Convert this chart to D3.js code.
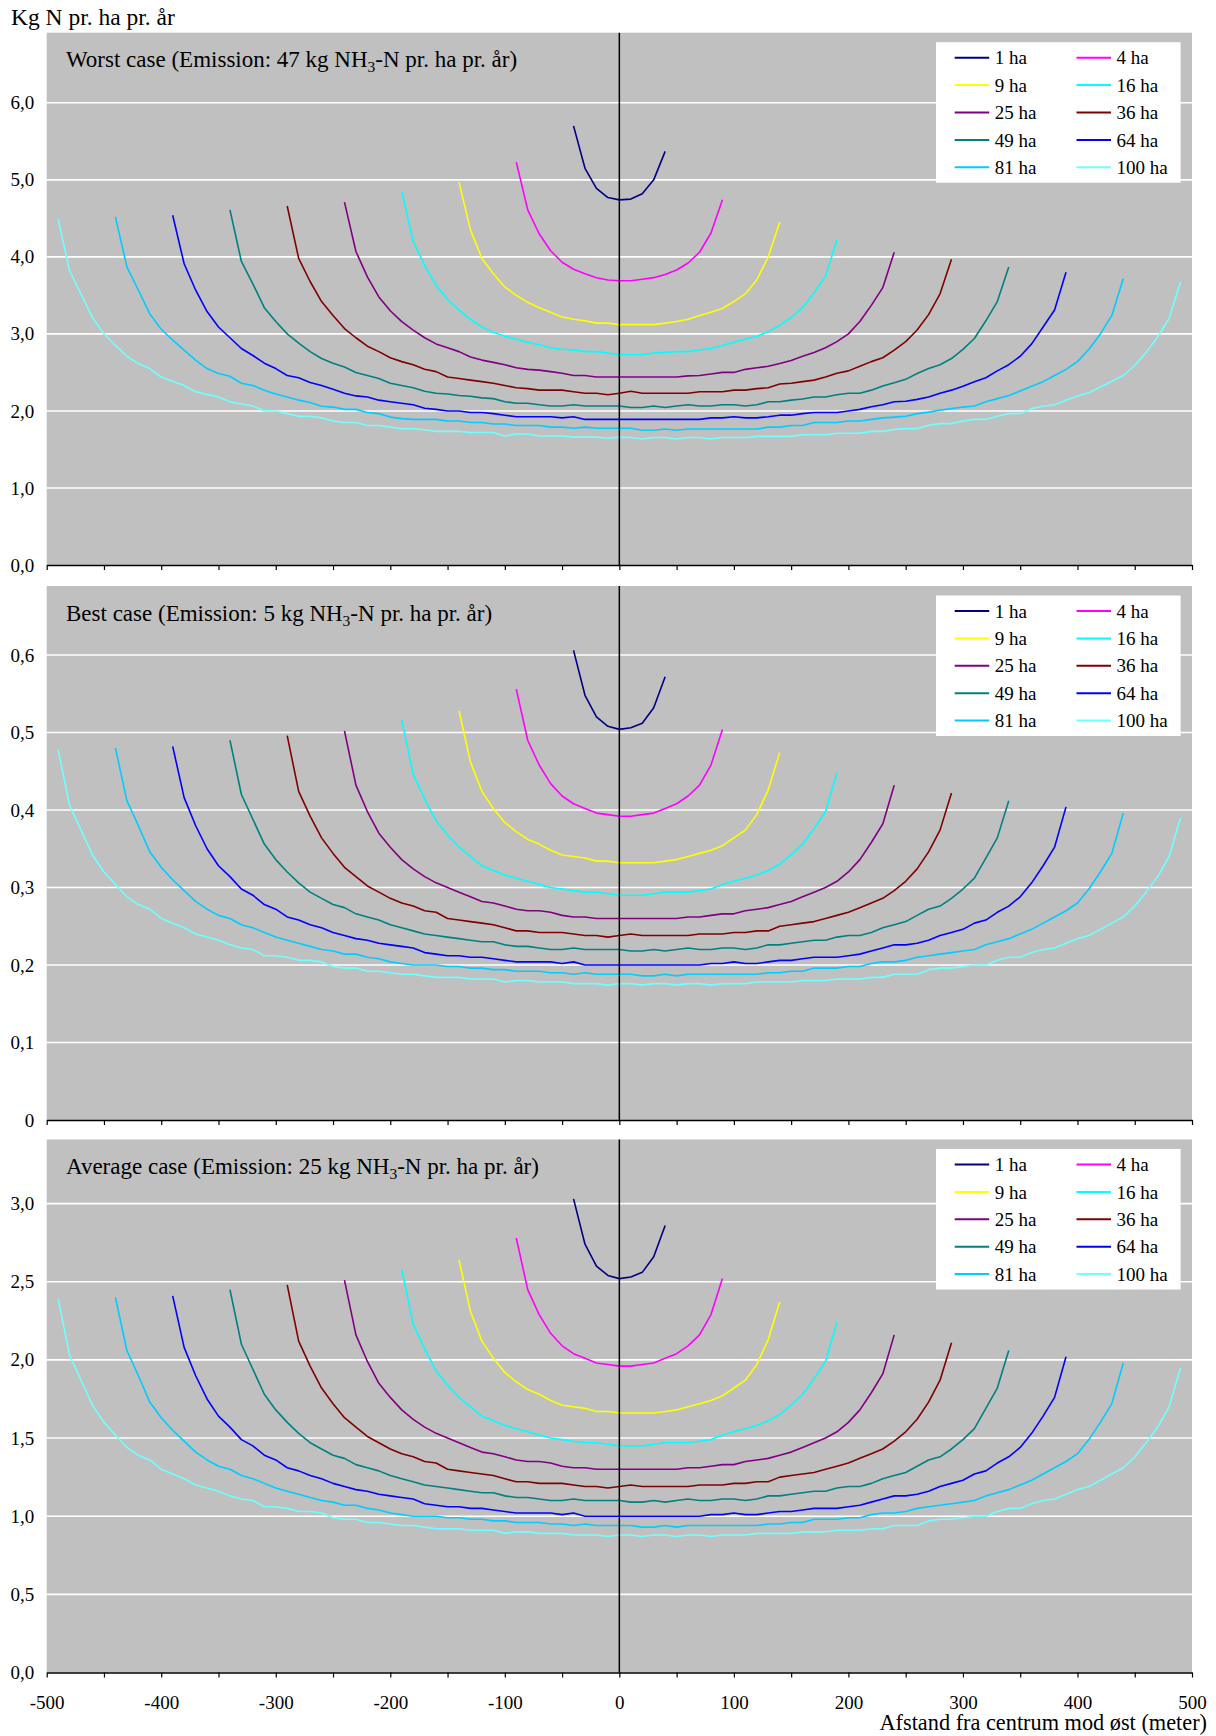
<!DOCTYPE html>
<html>
<head>
<meta charset="utf-8">
<script src="https://cdn.jsdelivr.net/npm/d3@7"></script>
<style>
  body { margin: 0; background: #fff; }
</style>
</head>
<body>
<div id="chart"></div>
<script>
// ---- data ----
var areaNames = ['1 ha', '4 ha', '9 ha', '16 ha', '25 ha', '36 ha', '49 ha', '64 ha', '81 ha', '100 ha'];
var areaColors = ['#000080', '#ff00ff', '#ffff00', '#00ffff', '#800080', '#800000', '#008080', '#0000ff', '#00ccff', '#70ffff'];
// each curve runs from -halfSpan to +halfSpan metres, one value per 10 m
var halfSpan = [40, 90, 140, 190, 240, 290, 340, 390, 440, 490];
var stepMeters = 10;

var worstCase = [
  [5.70, 5.15, 4.89, 4.77, 4.74, 4.75, 4.82, 5.00, 5.37],
  [5.23, 4.61, 4.30, 4.08, 3.93, 3.84, 3.78, 3.73, 3.70, 3.69, 3.69, 3.71, 3.73, 3.77, 3.83, 3.92, 4.06, 4.31, 4.74],
  [4.97, 4.35, 3.98, 3.78, 3.61, 3.50, 3.41, 3.34, 3.28, 3.22, 3.19, 3.17, 3.14, 3.14, 3.12, 3.12, 3.12, 3.12, 3.14, 3.16, 3.19, 3.24, 3.28, 3.33, 3.42, 3.52, 3.70, 4.00, 4.45],
  [4.85, 4.20, 3.89, 3.63, 3.45, 3.31, 3.19, 3.09, 3.02, 2.97, 2.93, 2.89, 2.86, 2.82, 2.80, 2.79, 2.77, 2.77, 2.75, 2.73, 2.73, 2.73, 2.75, 2.76, 2.77, 2.77, 2.79, 2.81, 2.85, 2.89, 2.93, 2.97, 3.03, 3.11, 3.21, 3.34, 3.53, 3.75, 4.22],
  [4.71, 4.07, 3.74, 3.48, 3.30, 3.16, 3.05, 2.95, 2.87, 2.82, 2.77, 2.70, 2.66, 2.63, 2.60, 2.56, 2.54, 2.53, 2.51, 2.49, 2.46, 2.46, 2.44, 2.44, 2.44, 2.44, 2.44, 2.44, 2.44, 2.44, 2.455, 2.46, 2.48, 2.50, 2.50, 2.54, 2.56, 2.58, 2.615, 2.655, 2.71, 2.76, 2.82, 2.90, 3.00, 3.16, 3.37, 3.60, 4.06],
  [4.66, 3.98, 3.68, 3.42, 3.24, 3.07, 2.95, 2.84, 2.77, 2.69, 2.64, 2.60, 2.54, 2.51, 2.44, 2.42, 2.40, 2.38, 2.36, 2.33, 2.30, 2.29, 2.27, 2.27, 2.27, 2.25, 2.23, 2.23, 2.21,
   2.23,
   2.255, 2.23, 2.23, 2.23, 2.23, 2.23, 2.25, 2.25, 2.25, 2.27, 2.27, 2.29, 2.30, 2.35, 2.36, 2.38, 2.40, 2.44, 2.49, 2.52, 2.58, 2.64, 2.69, 2.79, 2.90, 3.05, 3.25, 3.52, 3.97],
  [4.61, 3.94, 3.65, 3.34, 3.16, 3.00, 2.88, 2.77, 2.68, 2.62, 2.57, 2.50, 2.46, 2.42, 2.36, 2.33, 2.30, 2.255, 2.23, 2.22, 2.20, 2.19, 2.17, 2.16, 2.12, 2.10, 2.10, 2.08, 2.065, 2.065, 2.08, 2.065, 2.065, 2.065,
   2.065,
   2.045, 2.045, 2.065, 2.045, 2.065, 2.08, 2.065, 2.065, 2.08, 2.08, 2.065, 2.08, 2.12, 2.12, 2.14, 2.155, 2.18, 2.18, 2.21, 2.23, 2.23, 2.27, 2.325, 2.365, 2.41, 2.485, 2.55, 2.60, 2.68, 2.80, 2.94, 3.17, 3.42, 3.87],
  [4.54, 3.91, 3.57, 3.29, 3.09, 2.95, 2.81, 2.72, 2.62, 2.55, 2.46, 2.43, 2.37, 2.33, 2.28, 2.23, 2.195, 2.18, 2.14, 2.12, 2.10, 2.08, 2.035, 2.02, 2.00, 2.00, 1.98, 1.98, 1.965, 1.945, 1.925, 1.925, 1.925, 1.925, 1.91, 1.925, 1.89, 1.89, 1.89,
   1.89,
   1.89, 1.89, 1.89, 1.89, 1.89, 1.89, 1.89, 1.91, 1.91, 1.925, 1.91, 1.91, 1.925, 1.945, 1.945, 1.965, 1.98, 1.98, 1.98, 2.00, 2.02, 2.055, 2.08, 2.12, 2.125, 2.15, 2.18, 2.23, 2.27, 2.32, 2.38, 2.43, 2.52, 2.60, 2.71, 2.87, 3.09, 3.31, 3.80],
  [4.52, 3.87, 3.57, 3.26, 3.06, 2.92, 2.79, 2.66, 2.55, 2.485, 2.45, 2.36, 2.33, 2.27, 2.22, 2.18, 2.14, 2.11, 2.06, 2.05, 2.02, 2.02, 1.98, 1.965, 1.92, 1.90, 1.89, 1.89, 1.89, 1.87, 1.87, 1.85, 1.85, 1.83, 1.83, 1.81, 1.81, 1.81, 1.79, 1.79, 1.775, 1.79, 1.775, 1.775,
   1.775,
   1.775, 1.75, 1.75, 1.765, 1.75, 1.765, 1.765, 1.765, 1.765, 1.765, 1.765, 1.765, 1.79, 1.79, 1.81, 1.81, 1.85, 1.85, 1.85, 1.87, 1.87, 1.89, 1.91, 1.92, 1.93, 1.965, 1.985, 2.01, 2.03, 2.05, 2.065, 2.12, 2.16, 2.20, 2.26, 2.32, 2.38, 2.46, 2.54, 2.64, 2.80, 3.00, 3.24, 3.72],
  [4.49, 3.82, 3.515, 3.21, 3.00, 2.85, 2.71, 2.615, 2.55, 2.44, 2.385, 2.33, 2.25, 2.215, 2.18, 2.12, 2.09, 2.065, 2.00, 2.00, 1.965, 1.93, 1.93, 1.91, 1.87, 1.85, 1.85, 1.81, 1.81, 1.79, 1.77, 1.77, 1.755, 1.735, 1.735, 1.735, 1.72, 1.72, 1.72, 1.675, 1.70, 1.70, 1.675, 1.675, 1.675, 1.66, 1.66, 1.66, 1.645,
   1.66,
   1.655, 1.635, 1.655, 1.655, 1.635, 1.655, 1.655, 1.635, 1.655, 1.655, 1.655, 1.67, 1.67, 1.67, 1.67, 1.69, 1.69, 1.69, 1.71, 1.71, 1.71, 1.735, 1.735, 1.76, 1.77, 1.77, 1.815, 1.835, 1.835, 1.87, 1.89, 1.89, 1.93, 1.965, 1.965, 2.03, 2.06, 2.08, 2.14, 2.195, 2.235, 2.31, 2.385, 2.46, 2.59, 2.76, 2.96, 3.20, 3.675]
];

var bestCase = [
  [0.606, 0.548, 0.520, 0.508, 0.504, 0.506, 0.512, 0.532, 0.572],
  [0.556, 0.490, 0.458, 0.434, 0.418, 0.408, 0.402, 0.396, 0.394, 0.392, 0.392, 0.394, 0.396, 0.402, 0.408, 0.418, 0.432, 0.458, 0.504],
  [0.528, 0.462, 0.424, 0.402, 0.384, 0.372, 0.362, 0.356, 0.348, 0.342, 0.340, 0.338, 0.334, 0.334, 0.332, 0.332, 0.332, 0.332, 0.334, 0.336, 0.340, 0.344, 0.348, 0.354, 0.364, 0.374, 0.394, 0.426, 0.474],
  [0.516, 0.446, 0.414, 0.386, 0.368, 0.352, 0.340, 0.328, 0.322, 0.316, 0.312, 0.308, 0.304, 0.300, 0.298, 0.296, 0.294, 0.294, 0.292, 0.290, 0.290, 0.290, 0.292, 0.294, 0.294, 0.294, 0.296, 0.298, 0.304, 0.308, 0.312, 0.316, 0.322, 0.330, 0.342, 0.356, 0.376, 0.398, 0.448],
  [0.502, 0.432, 0.398, 0.370, 0.352, 0.336, 0.324, 0.314, 0.306, 0.300, 0.294, 0.288, 0.282, 0.280, 0.276, 0.272, 0.270, 0.270, 0.268, 0.264, 0.262, 0.262, 0.260, 0.260,
   0.260,
   0.260, 0.260, 0.260, 0.260, 0.260, 0.262, 0.262, 0.264, 0.266, 0.266, 0.270, 0.272, 0.274, 0.278, 0.282, 0.288, 0.294, 0.300, 0.308, 0.320, 0.336, 0.358, 0.382, 0.432],
  [0.496, 0.424, 0.392, 0.364, 0.344, 0.326, 0.314, 0.302, 0.294, 0.286, 0.280, 0.276, 0.270, 0.268, 0.260, 0.258, 0.256, 0.254, 0.252, 0.248, 0.244, 0.244, 0.242, 0.242, 0.242, 0.240, 0.238, 0.238, 0.236,
   0.238,
   0.240, 0.238, 0.238, 0.238, 0.238, 0.238, 0.240, 0.240, 0.240, 0.242, 0.242, 0.244, 0.244, 0.250, 0.252, 0.254, 0.256, 0.260, 0.264, 0.268, 0.274, 0.280, 0.286, 0.296, 0.308, 0.324, 0.346, 0.374, 0.422],
  [0.490, 0.420, 0.388, 0.356, 0.336, 0.320, 0.306, 0.294, 0.286, 0.278, 0.274, 0.266, 0.262, 0.258, 0.252, 0.248, 0.244, 0.240, 0.238, 0.236, 0.234, 0.232, 0.230, 0.230, 0.226, 0.224, 0.224, 0.222, 0.220, 0.220, 0.222, 0.220, 0.220, 0.220,
   0.220,
   0.218, 0.218, 0.220, 0.218, 0.220, 0.222, 0.220, 0.220, 0.222, 0.222, 0.220, 0.222, 0.226, 0.226, 0.228, 0.230, 0.232, 0.232, 0.236, 0.238, 0.238, 0.242, 0.248, 0.252, 0.256, 0.264, 0.272, 0.276, 0.286, 0.298, 0.312, 0.338, 0.364, 0.412],
  [0.482, 0.416, 0.380, 0.350, 0.328, 0.314, 0.298, 0.290, 0.278, 0.272, 0.262, 0.258, 0.252, 0.248, 0.242, 0.238, 0.234, 0.232, 0.228, 0.226, 0.224, 0.222, 0.216, 0.214, 0.212, 0.212, 0.210, 0.210, 0.208, 0.206, 0.204, 0.204, 0.204, 0.204, 0.202, 0.204, 0.200, 0.200, 0.200,
   0.200,
   0.200, 0.200, 0.200, 0.200, 0.200, 0.200, 0.200, 0.202, 0.202, 0.204, 0.202, 0.202, 0.204, 0.206, 0.206, 0.208, 0.210, 0.210, 0.210, 0.212, 0.214, 0.218, 0.222, 0.226, 0.226, 0.228, 0.232, 0.238, 0.242, 0.246, 0.254, 0.258, 0.268, 0.276, 0.288, 0.306, 0.328, 0.352, 0.404],
  [0.480, 0.412, 0.380, 0.346, 0.326, 0.310, 0.296, 0.282, 0.272, 0.264, 0.260, 0.252, 0.248, 0.242, 0.236, 0.232, 0.228, 0.224, 0.220, 0.218, 0.214, 0.214, 0.210, 0.208, 0.204, 0.202, 0.200, 0.200, 0.200, 0.198, 0.198, 0.196, 0.196, 0.194, 0.194, 0.192, 0.192, 0.192, 0.190, 0.190, 0.188, 0.190, 0.188, 0.188,
   0.188,
   0.188, 0.186, 0.186, 0.188, 0.186, 0.188, 0.188, 0.188, 0.188, 0.188, 0.188, 0.188, 0.190, 0.190, 0.192, 0.192, 0.196, 0.196, 0.196, 0.198, 0.198, 0.202, 0.204, 0.204, 0.206, 0.210, 0.212, 0.214, 0.216, 0.218, 0.220, 0.226, 0.230, 0.234, 0.240, 0.246, 0.254, 0.262, 0.270, 0.280, 0.298, 0.320, 0.344, 0.396],
  [0.478, 0.406, 0.374, 0.342, 0.320, 0.304, 0.288, 0.278, 0.272, 0.260, 0.254, 0.248, 0.240, 0.236, 0.232, 0.226, 0.222, 0.220, 0.212, 0.212, 0.210, 0.206, 0.206, 0.204, 0.198, 0.196, 0.196, 0.192, 0.192, 0.190, 0.188, 0.188, 0.186, 0.184, 0.184, 0.184, 0.182, 0.182, 0.182, 0.178, 0.180, 0.180, 0.178, 0.178, 0.178, 0.176, 0.176, 0.176, 0.174,
   0.176,
   0.176, 0.174, 0.176, 0.176, 0.174, 0.176, 0.176, 0.174, 0.176, 0.176, 0.176, 0.178, 0.178, 0.178, 0.178, 0.180, 0.180, 0.180, 0.182, 0.182, 0.182, 0.184, 0.184, 0.188, 0.188, 0.188, 0.194, 0.196, 0.196, 0.198, 0.200, 0.200, 0.206, 0.210, 0.210, 0.216, 0.220, 0.222, 0.228, 0.234, 0.238, 0.246, 0.254, 0.262, 0.276, 0.294, 0.314, 0.340, 0.390]
];

var averageCase = [
  [3.03, 2.74, 2.60, 2.54, 2.52, 2.53, 2.56, 2.66, 2.86],
  [2.78, 2.45, 2.29, 2.17, 2.09, 2.04, 2.01, 1.98, 1.97, 1.96, 1.96, 1.97, 1.98, 2.01, 2.04, 2.09, 2.16, 2.29, 2.52],
  [2.64, 2.31, 2.12, 2.01, 1.92, 1.86, 1.81, 1.78, 1.74, 1.71, 1.70, 1.69, 1.67, 1.67, 1.66, 1.66, 1.66, 1.66, 1.67, 1.68, 1.70, 1.72, 1.74, 1.77, 1.82, 1.87, 1.97, 2.13, 2.37],
  [2.58, 2.23, 2.07, 1.93, 1.84, 1.76, 1.70, 1.64, 1.61, 1.58, 1.56, 1.54, 1.52, 1.50, 1.49, 1.48, 1.47, 1.47, 1.46, 1.45, 1.45, 1.45, 1.46, 1.47, 1.47, 1.47, 1.48, 1.49, 1.52, 1.54, 1.56, 1.58, 1.61, 1.65, 1.71, 1.78, 1.88, 1.99, 2.24],
  [2.51, 2.16, 1.99, 1.85, 1.76, 1.68, 1.62, 1.57, 1.53, 1.50, 1.47, 1.44, 1.41, 1.40, 1.38, 1.36, 1.35, 1.35, 1.34, 1.32, 1.31, 1.31, 1.30, 1.30,
   1.30,
   1.30, 1.30, 1.30, 1.30, 1.30, 1.31, 1.31, 1.32, 1.33, 1.33, 1.35, 1.36, 1.37, 1.39, 1.41, 1.44, 1.47, 1.50, 1.54, 1.60, 1.68, 1.79, 1.91, 2.16],
  [2.48, 2.12, 1.96, 1.82, 1.72, 1.63, 1.57, 1.51, 1.47, 1.43, 1.40, 1.38, 1.35, 1.34, 1.30, 1.29, 1.28, 1.27, 1.26, 1.24, 1.22, 1.22, 1.21, 1.21, 1.21, 1.20, 1.19, 1.19, 1.18,
   1.19,
   1.20, 1.19, 1.19, 1.19, 1.19, 1.19, 1.20, 1.20, 1.20, 1.21, 1.21, 1.22, 1.22, 1.25, 1.26, 1.27, 1.28, 1.30, 1.32, 1.34, 1.37, 1.40, 1.43, 1.48, 1.54, 1.62, 1.73, 1.87, 2.11],
  [2.45, 2.10, 1.94, 1.78, 1.68, 1.60, 1.53, 1.47, 1.43, 1.39, 1.37, 1.33, 1.31, 1.29, 1.26, 1.24, 1.22, 1.20, 1.19, 1.18, 1.17, 1.16, 1.15, 1.15, 1.13, 1.12, 1.12, 1.11, 1.10, 1.10, 1.11, 1.10, 1.10, 1.10,
   1.10,
   1.09, 1.09, 1.10, 1.09, 1.10, 1.11, 1.10, 1.10, 1.11, 1.11, 1.10, 1.11, 1.13, 1.13, 1.14, 1.15, 1.16, 1.16, 1.18, 1.19, 1.19, 1.21, 1.24, 1.26, 1.28, 1.32, 1.36, 1.38, 1.43, 1.49, 1.56, 1.69, 1.82, 2.06],
  [2.41, 2.08, 1.90, 1.75, 1.64, 1.57, 1.49, 1.45, 1.39, 1.36, 1.31, 1.29, 1.26, 1.24, 1.21, 1.19, 1.17, 1.16, 1.14, 1.13, 1.12, 1.11, 1.08, 1.07, 1.06, 1.06, 1.05, 1.05, 1.04, 1.03, 1.02, 1.02, 1.02, 1.02, 1.01, 1.02, 1.00, 1.00, 1.00,
   1.00,
   1.00, 1.00, 1.00, 1.00, 1.00, 1.00, 1.00, 1.01, 1.01, 1.02, 1.01, 1.01, 1.02, 1.03, 1.03, 1.04, 1.05, 1.05, 1.05, 1.06, 1.07, 1.09, 1.11, 1.13, 1.13, 1.14, 1.16, 1.19, 1.21, 1.23, 1.27, 1.29, 1.34, 1.38, 1.44, 1.53, 1.64, 1.76, 2.02],
  [2.40, 2.06, 1.90, 1.73, 1.63, 1.55, 1.48, 1.41, 1.36, 1.32, 1.30, 1.26, 1.24, 1.21, 1.18, 1.16, 1.14, 1.12, 1.10, 1.09, 1.07, 1.07, 1.05, 1.04, 1.02, 1.01, 1.00, 1.00, 1.00, 0.99, 0.99, 0.98, 0.98, 0.97, 0.97, 0.96, 0.96, 0.96, 0.95, 0.95, 0.94, 0.95, 0.94, 0.94,
   0.94,
   0.94, 0.93, 0.93, 0.94, 0.93, 0.94, 0.94, 0.94, 0.94, 0.94, 0.94, 0.94, 0.95, 0.95, 0.96, 0.96, 0.98, 0.98, 0.98, 0.99, 0.99, 1.01, 1.02, 1.02, 1.03, 1.05, 1.06, 1.07, 1.08, 1.09, 1.10, 1.13, 1.15, 1.17, 1.20, 1.23, 1.27, 1.31, 1.35, 1.40, 1.49, 1.60, 1.72, 1.98],
  [2.39, 2.03, 1.87, 1.71, 1.60, 1.52, 1.44, 1.39, 1.36, 1.30, 1.27, 1.24, 1.20, 1.18, 1.16, 1.13, 1.11, 1.10, 1.06, 1.06, 1.05, 1.03, 1.03, 1.02, 0.99, 0.98, 0.98, 0.96, 0.96, 0.95, 0.94, 0.94, 0.93, 0.92, 0.92, 0.92, 0.91, 0.91, 0.91, 0.89, 0.90, 0.90, 0.89, 0.89, 0.89, 0.88, 0.88, 0.88, 0.87,
   0.88,
   0.88, 0.87, 0.88, 0.88, 0.87, 0.88, 0.88, 0.87, 0.88, 0.88, 0.88, 0.89, 0.89, 0.89, 0.89, 0.90, 0.90, 0.90, 0.91, 0.91, 0.91, 0.92, 0.92, 0.94, 0.94, 0.94, 0.97, 0.98, 0.98, 0.99, 1.00, 1.00, 1.03, 1.05, 1.05, 1.08, 1.10, 1.11, 1.14, 1.17, 1.19, 1.23, 1.27, 1.31, 1.38, 1.47, 1.57, 1.70, 1.95]
];

// y ticks and their printed labels, per panel
var worstTicks = [0, 1, 2, 3, 4, 5, 6];
var worstTickLabels = ['0,0', '1,0', '2,0', '3,0', '4,0', '5,0', '6,0'];
var bestTicks = [0, 0.1, 0.2, 0.3, 0.4, 0.5, 0.6];
var bestTickLabels = ['0', '0,1', '0,2', '0,3', '0,4', '0,5', '0,6'];
var averageTicks = [0, 0.5, 1, 1.5, 2, 2.5, 3];
var averageTickLabels = ['0,0', '0,5', '1,0', '1,5', '2,0', '2,5', '3,0'];

// x ticks every 50 m, labels every 100 m
var xTicks = [-500, -450, -400, -350, -300, -250, -200, -150, -100, -50, 0, 50, 100, 150, 200, 250, 300, 350, 400, 450, 500];
var xTickLabels = [-500, -400, -300, -200, -100, 0, 100, 200, 300, 400, 500];

// titles are split around the subscript "3" of NH3
var titleStarts = ['Worst case (Emission: 47 kg NH', 'Best case (Emission: 5 kg NH', 'Average case (Emission: 25 kg NH'];
var titleEnd = '-N pr. ha pr. år)';
var yAxisTitle = 'Kg N pr. ha pr. år';
var xAxisTitle = 'Afstand fra centrum mod øst (meter)';

// ---- drawing ----
var W = 1216, H = 1736;
var fontFamily = '"Liberation Serif", "Times New Roman", serif';

var svg = d3.select('#chart').append('svg')
    .attr('width', W)
    .attr('height', H)
    .style('font-family', fontFamily);

var plotLeft = 46.7, plotRight = 1192;
var x = d3.scaleLinear().domain([-500, 500]).range([plotLeft, plotRight]);

var panels = [
    { top: 32.7, bottom: 565, yMax: 6.91, values: worstCase, ticks: worstTicks, labels: worstTickLabels, title: titleStarts[0], showX: false },
    { top: 586, bottom: 1120, yMax: 0.689, values: bestCase, ticks: bestTicks, labels: bestTickLabels, title: titleStarts[1], showX: false },
    { top: 1139.5, bottom: 1672.5, yMax: 3.41, values: averageCase, ticks: averageTicks, labels: averageTickLabels, title: titleStarts[2], showX: true }
];

panels.forEach(function (p) {

    var y = d3.scaleLinear().domain([0, p.yMax]).range([p.bottom, p.top]);
    var g = svg.append('g');

    // plot area
    g.append('rect')
        .attr('x', plotLeft)
        .attr('y', p.top)
        .attr('width', plotRight - plotLeft)
        .attr('height', p.bottom - p.top)
        .attr('fill', '#c0c0c0');

    // horizontal gridlines
    g.selectAll('line.grid')
        .data(p.ticks.filter(function (d) { return d > 0; }))
        .join('line')
        .attr('class', 'grid')
        .attr('x1', plotLeft)
        .attr('x2', plotRight)
        .attr('y1', function (d) { return y(d); })
        .attr('y2', function (d) { return y(d); })
        .attr('stroke', '#ffffff')
        .attr('stroke-width', 1.6);

    // y labels
    var yAxis = d3.axisLeft(y)
        .tickValues(p.ticks)
        .tickSize(0)
        .tickPadding(12.5)
        .tickFormat(function (d, i) { return p.labels[i]; });

    var ya = g.append('g')
        .attr('transform', 'translate(' + plotLeft + ',0)')
        .call(yAxis);
    ya.select('.domain').remove();
    ya.selectAll('text')
        .style('font-family', fontFamily)
        .style('font-size', '19px')
        .attr('fill', '#000');

    // curves
    var line = d3.line()
        .x(function (d) { return x(d[0]); })
        .y(function (d) { return y(d[1]); });

    g.selectAll('path.curve')
        .data(p.values)
        .join('path')
        .attr('class', 'curve')
        .attr('fill', 'none')
        .attr('stroke', function (d, i) { return areaColors[i]; })
        .attr('stroke-width', 1.6)
        .attr('stroke-linejoin', 'round')
        .attr('d', function (vals, i) {
            return line(vals.map(function (v, j) { return [j * stepMeters - halfSpan[i], v]; }));
        });

    // vertical axis at x = 0
    g.append('line')
        .attr('x1', x(0))
        .attr('x2', x(0))
        .attr('y1', p.top)
        .attr('y2', p.bottom)
        .attr('stroke', '#000')
        .attr('stroke-width', 1.5);

    // bottom axis
    var xAxis = d3.axisBottom(x)
        .tickValues(xTicks)
        .tickSize(5)
        .tickSizeOuter(0)
        .tickPadding(18)
        .tickFormat(function (d) {
            return (p.showX && xTickLabels.indexOf(d) >= 0) ? String(d) : '';
        });

    var xa = g.append('g')
        .attr('transform', 'translate(0,' + p.bottom + ')')
        .call(xAxis);
    xa.select('.domain').attr('stroke', '#000').attr('stroke-width', 1.5);
    xa.selectAll('.tick line').attr('stroke', '#000').attr('stroke-width', 1.2);
    xa.selectAll('text')
        .style('font-family', fontFamily)
        .style('font-size', '19px')
        .attr('fill', '#000');

    // panel title with subscript
    var title = g.append('text')
        .attr('x', 66)
        .attr('y', p.top + 34.5)
        .style('font-size', '23px')
        .attr('fill', '#000');
    title.append('tspan').text(p.title);
    title.append('tspan').text('3').attr('dy', 5).style('font-size', '15.5px');
    title.append('tspan').text(titleEnd).attr('dy', -5);

    // legend
    var legendX = 936, legendY = p.top + 9.5;
    g.append('rect')
        .attr('x', legendX)
        .attr('y', legendY)
        .attr('width', 244.6)
        .attr('height', 140.5)
        .attr('fill', '#ffffff');

    var items = g.selectAll('g.legend')
        .data(areaNames)
        .join('g')
        .attr('class', 'legend')
        .attr('transform', function (d, i) {
            var col = i % 2, row = Math.floor(i / 2);
            return 'translate(' + (legendX + 18.7 + col * 121.8) + ',' + (legendY + 15.5 + row * 27.4) + ')';
        });

    items.append('line')
        .attr('x1', 0)
        .attr('x2', 34.5)
        .attr('stroke', function (d, i) { return areaColors[i]; })
        .attr('stroke-width', 2);

    items.append('text')
        .attr('x', 40)
        .attr('dy', '0.35em')
        .style('font-size', '19px')
        .attr('fill', '#000')
        .text(function (d) { return d; });
});

// axis titles
svg.append('text')
    .attr('x', 11)
    .attr('y', 25)
    .style('font-size', '23.5px')
    .attr('fill', '#000')
    .text(yAxisTitle);

svg.append('text')
    .attr('x', 1207)
    .attr('y', 1730)
    .attr('text-anchor', 'end')
    .style('font-size', '22.3px')
    .attr('fill', '#000')
    .text(xAxisTitle);
</script>
</body>
</html>
